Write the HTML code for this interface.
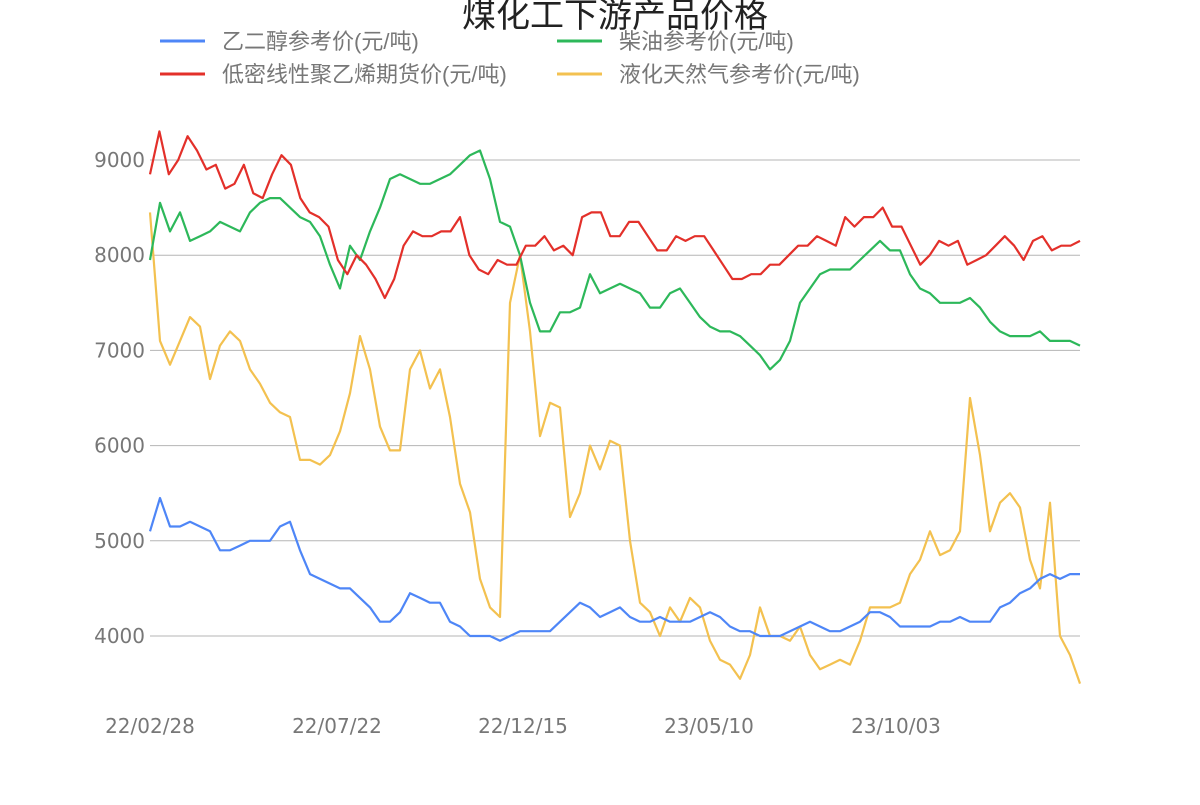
<!DOCTYPE html>
<html><head><meta charset="utf-8"><style>
html,body{margin:0;padding:0;background:#fff;}
svg text{font-family:"Liberation Sans","Noto Sans CJK SC",sans-serif;}
svg text.num{font-family:"DejaVu Sans",sans-serif;}
</style></head><body>
<svg id="chart" width="1200" height="800" xmlns="http://www.w3.org/2000/svg">
<text x="615" y="27" font-size="34" text-anchor="middle" fill="#222">煤化工下游产品价格</text>
<g font-size="22" fill="#777">
<g><line x1="160" y1="41" x2="205" y2="41" stroke="#4e86f7" stroke-width="3"/><text x="222" y="49">乙二醇参考价(元/吨)</text></g>
<g><line x1="557" y1="41" x2="602" y2="41" stroke="#2db85a" stroke-width="3"/><text x="619" y="49">柴油参考价(元/吨)</text></g>
<g><line x1="160" y1="74" x2="205" y2="74" stroke="#e3302a" stroke-width="3"/><text x="222" y="82">低密线性聚乙烯期货价(元/吨)</text></g>
<g><line x1="557" y1="74" x2="602" y2="74" stroke="#f3c150" stroke-width="3"/><text x="619" y="82">液化天然气参考价(元/吨)</text></g>
</g>
<g id="grid"></g><g id="series"></g><g id="axes"></g>
</svg>
<script>
const yTicks=[4000,5000,6000,7000,8000,9000];
const xLabels=["22/02/28","22/07/22","22/12/15","23/05/10","23/10/03"];
const xLabelIdx=[0,18.7,37.3,55.9,74.6];
const lldpe=[8850,9300,8850,9000,9250,9100,8900,8950,8700,8750,8950,8650,8600,8850,9050,8950,8600,8450,8400,8300,7950,7800,8000,7900,7750,7550,7750,8100,8250,8200,8200,8250,8250,8400,8000,7850,7800,7950,7900,7900,8100,8100,8200,8050,8100,8000,8400,8450,8450,8200,8200,8350,8350,8200,8050,8050,8200,8150,8200,8200,8050,7900,7750,7750,7800,7800,7900,7900,8000,8100,8100,8200,8150,8100,8400,8300,8400,8400,8500,8300,8300,8100,7900,8000,8150,8100,8150,7900,7950,8000,8100,8200,8100,7950,8150,8200,8050,8100,8100,8150];
const diesel=[7950,8550,8250,8450,8150,8200,8250,8350,8300,8250,8450,8550,8600,8600,8500,8400,8350,8200,7900,7650,8100,7950,8250,8500,8800,8850,8800,8750,8750,8800,8850,8950,9050,9100,8800,8350,8300,8000,7500,7200,7200,7400,7400,7450,7800,7600,7650,7700,7650,7600,7450,7450,7600,7650,7500,7350,7250,7200,7200,7150,7050,6950,6800,6900,7100,7500,7650,7800,7850,7850,7850,7950,8050,8150,8050,8050,7800,7650,7600,7500,7500,7500,7550,7450,7300,7200,7150,7150,7150,7200,7100,7100,7100,7050];
const meg=[5100,5450,5150,5150,5200,5150,5100,4900,4900,4950,5000,5000,5000,5150,5200,4900,4650,4600,4550,4500,4500,4400,4300,4150,4150,4250,4450,4400,4350,4350,4150,4100,4000,4000,4000,3950,4000,4050,4050,4050,4050,4150,4250,4350,4300,4200,4250,4300,4200,4150,4150,4200,4150,4150,4150,4200,4250,4200,4100,4050,4050,4000,4000,4000,4050,4100,4150,4100,4050,4050,4100,4150,4250,4250,4200,4100,4100,4100,4100,4150,4150,4200,4150,4150,4150,4300,4350,4450,4500,4600,4650,4600,4650,4650];
const lng=[8450,7100,6850,7100,7350,7250,6700,7050,7200,7100,6800,6650,6450,6350,6300,5850,5850,5800,5900,6150,6550,7150,6800,6200,5950,5950,6800,7000,6600,6800,6300,5600,5300,4600,4300,4200,7500,8000,7200,6100,6450,6400,5250,5500,6000,5750,6050,6000,5000,4350,4250,4000,4300,4150,4400,4300,3950,3750,3700,3550,3800,4300,4000,4000,3950,4100,3800,3650,3700,3750,3700,3950,4300,4300,4300,4350,4650,4800,5100,4850,4900,5100,6500,5900,5100,5400,5500,5350,4800,4500,5400,4000,3800,3500];
const ns="http://www.w3.org/2000/svg";
const X0=150,X1=1080;
function yS(v){return 636-(v-4000)*0.0952;}
function xS(i,n){return X0+(X1-X0)*i/(n-1);}
const grid=document.getElementById('grid'),axes=document.getElementById('axes'),ser=document.getElementById('series');
yTicks.forEach(v=>{
 const l=document.createElementNS(ns,'line');
 
 
 l.setAttribute('x1',X0);l.setAttribute('x2',X1);l.setAttribute('y1',yS(v));l.setAttribute('y2',yS(v));
 l.setAttribute('stroke','#b5b5b5');l.setAttribute('stroke-width','1');grid.appendChild(l);
 const t=document.createElementNS(ns,'text');
 
 
 t.setAttribute('class','num');
 t.setAttribute('x',145);t.setAttribute('y',yS(v)+7);t.setAttribute('text-anchor','end');
 t.setAttribute('font-size','20');t.setAttribute('fill','#777');t.textContent=v;axes.appendChild(t);
});
const nPts=meg.length;
xLabels.forEach((s,k)=>{
 const t=document.createElementNS(ns,'text');
 
 
 t.setAttribute('class','num');
 t.setAttribute('x',xS(xLabelIdx[k],nPts));t.setAttribute('y',733);t.setAttribute('text-anchor','middle');
 t.setAttribute('font-size','20');t.setAttribute('fill','#777');t.textContent=s;axes.appendChild(t);
});
[[lng,'#f3c150','lng-line'],[meg,'#4e86f7','meg-line'],[diesel,'#2db85a','diesel-line'],[lldpe,'#e3302a','lldpe-line']].forEach(([d,c,nm])=>{
 const p=document.createElementNS(ns,'polyline');
 
 
 p.setAttribute('points',d.map((v,i)=>xS(i,d.length).toFixed(1)+','+yS(v).toFixed(1)).join(' '));
 p.setAttribute('fill','none');p.setAttribute('stroke',c);p.setAttribute('stroke-width','2.2');p.setAttribute('stroke-linejoin','round');
 ser.appendChild(p);
});
</script>
</body></html>
